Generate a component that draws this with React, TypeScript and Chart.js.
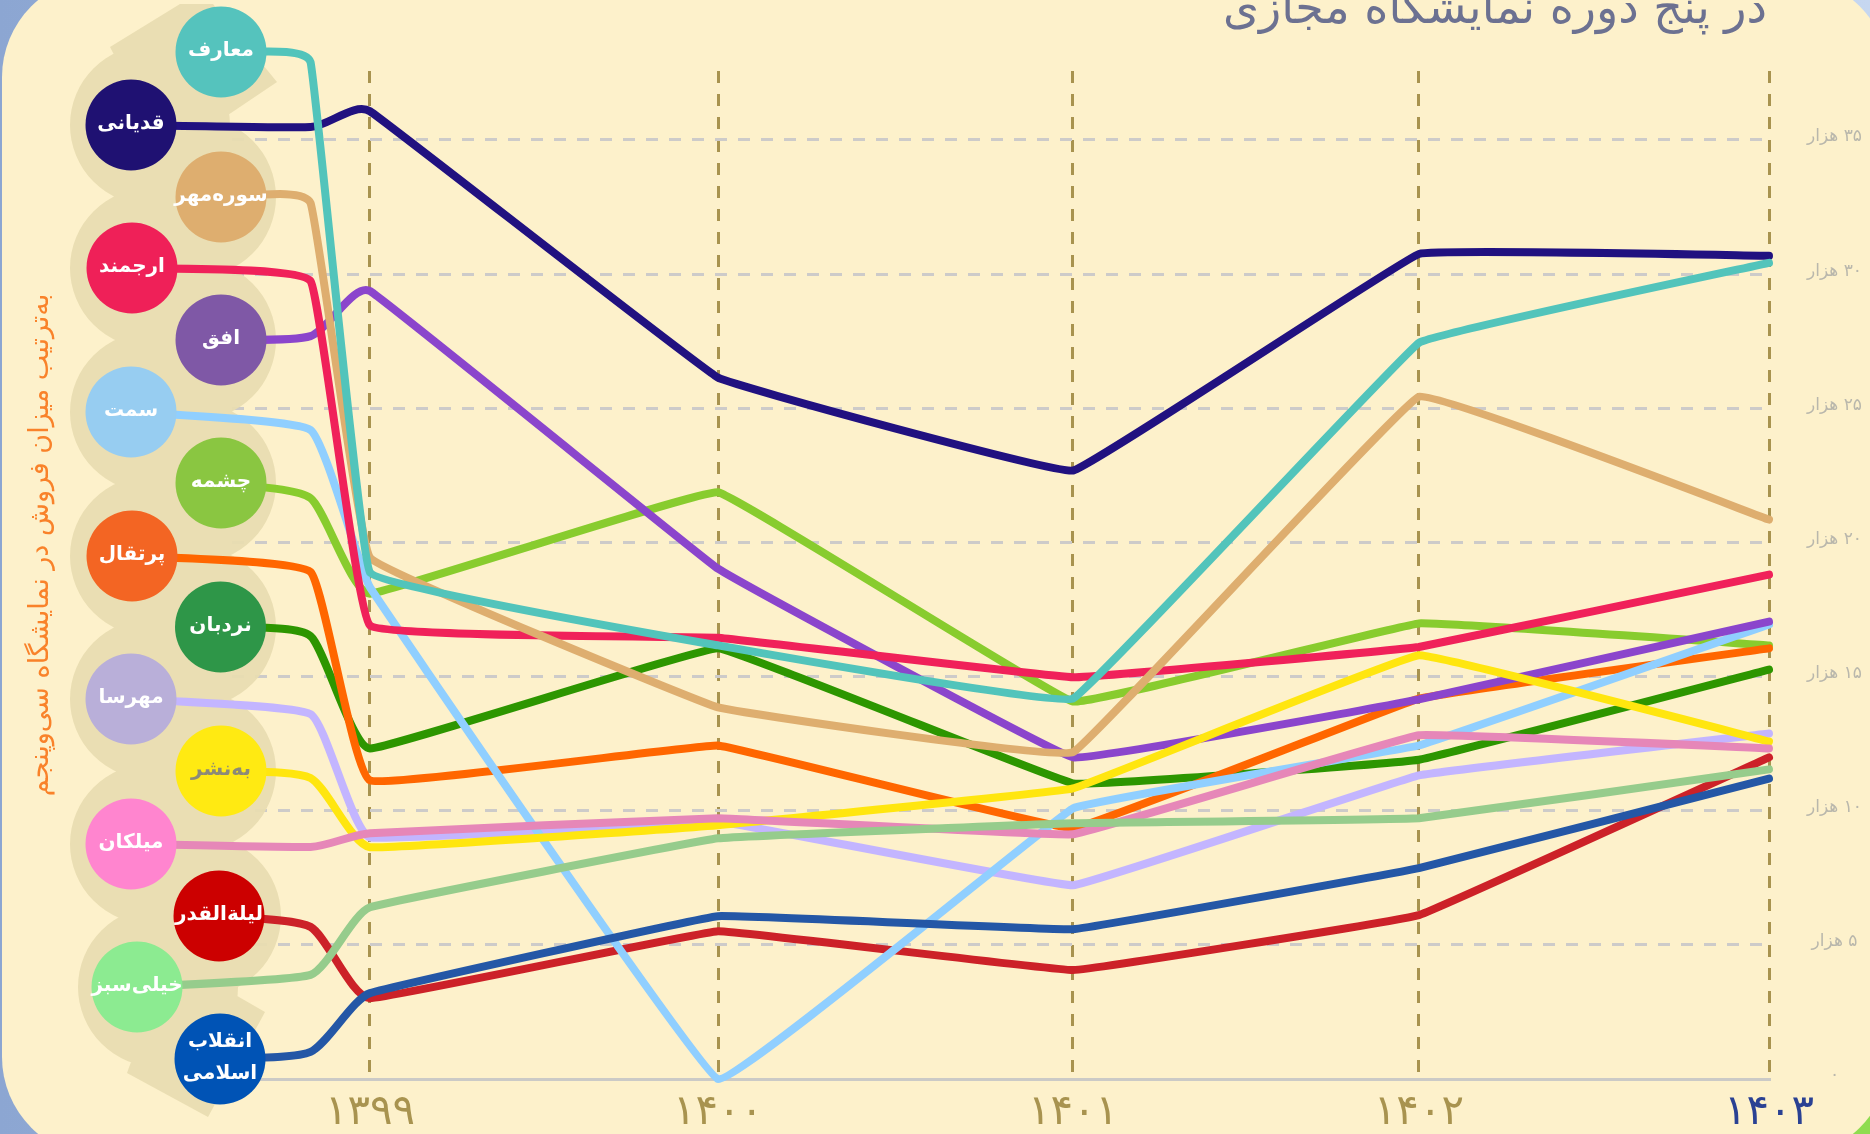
import React, { useEffect, useRef } from "react";
import { Chart, registerables } from "chart.js";

Chart.register(...registerables);

const FONT = '"DejaVu Sans", "Noto Sans", sans-serif';

const publishers = ["معارف", "قدیانی", "سوره‌مهر", "ارجمند", "افق", "سمت", "چشمه", "پرتقال", "نردبان", "مهرسا", "به‌نشر", "میلکان", "لیلة‌القدر", "خیلی‌سبز", "انقلاب\nاسلامی"];
const yearLabels = ["۱۳۹۹", "۱۴۰۰", "۱۴۰۱", "۱۴۰۲", "۱۴۰۳"];
const yearPositions = [1399, 1399.995, 1401.01, 1401.999, 1403];
const yTickValues = [0, 5000, 10000, 15000, 20000, 25000, 30000, 35000];

const sales1399 = [18880, 36070, 19430, 16900, 29370, 18320, 18090, 11130, 12320, 9010, 8640, 9160, 3010, 6400, 3200];
const sales1400 = [16160, 26140, 13850, 16450, 19020, 0, 21870, 12430, 16050, 9600, 9460, 9720, 5510, 8970, 6070];
const sales1401 = [14180, 22680, 12180, 14970, 11990, 10090, 14070, 9340, 11020, 7220, 10830, 9120, 4060, 9530, 5580];
const sales1402 = [27440, 30750, 25430, 16100, 14150, 12430, 16980, 14180, 11900, 11320, 15790, 12810, 6110, 9720, 7860];
const sales1403 = [30420, 30680, 20850, 18800, 17050, 16940, 16160, 16050, 15260, 12880, 12580, 12320, 11990, 11540, 11200];
const connectorValues = [37900, 35480, 32650, 29740, 27690, 24190, 21650, 18900, 16510, 13600, 11220, 8650, 5670, 3880, 1010];

const lineColors = ["#52C4BB", "#211180", "#DEAE6F", "#F0215A", "#8B45CC", "#90CFFF", "#88CC2E", "#FF6600", "#2D9600", "#C3B5FF", "#FFE60F", "#E687B8", "#CC2128", "#96CC8C", "#2457A6"];
const circleColors = ["#55C3BD", "#1F1172", "#DEAE6F", "#EF2058", "#7F58A6", "#97CDF1", "#8AC641", "#F36523", "#2E9648", "#B9AFD9", "#FFEA12", "#FF85CF", "#CC0000", "#8CEB91", "#0053B5"];
const layerOrder = [3, 14, 4, 5, 6, 8, 12, 9, 11, 10, 2, 1, 13, 0, 7];
const labelColors = publishers.map((_, i) => (i === 10 ? "#8C8A78" : "#FFFFFF"));

// geometry of the frame
const PLOT_LEFT = 232;
const PLOT_RIGHT = 1769;
const PLOT_TOP = 71;
const PLOT_BOTTOM = 1079;
const X_399 = 370;
const X_UNIT = 349.75;
const Y_MAX = 37570;
const Y_UNIT = Y_MAX / (PLOT_BOTTOM - PLOT_TOP);
const BEND_X = 1398.83;
const CORNER = 18;
const circleCX = [221, 131, 221, 132, 221, 131, 221, 132, 220.5, 131, 221, 131, 219, 137, 220];
const circleCY = [52, 125, 197, 268, 340, 412, 483, 556, 627, 699, 771, 844, 916, 987, 1059];
const CIRCLE_R = 45.5;

const seriesPoints = (i: number) => {
  const ys = [sales1399[i], sales1400[i], sales1401[i], sales1402[i], sales1403[i]];
  return [
    { x: 1399 + (circleCX[i] - X_399) / X_UNIT, y: (PLOT_BOTTOM - circleCY[i]) * Y_UNIT },
    { x: BEND_X, y: connectorValues[i] },
    ...ys.map((y, k) => ({ x: yearPositions[k], y })),
  ];
};

const toFa = (n: number) => String(n).replace(/\d/g, (d) => "۰۱۲۳۴۵۶۷۸۹"[Number(d)]);

const framePlugin = {
  id: "frame",
  // round each corner with a fixed radius instead of one that grows with the segment
  afterDatasetsUpdate(chart: any) {
    publishers.forEach((_, i) => {
      const meta = chart.getDatasetMeta(i);
      const pts = meta.data;
      pts.forEach((p: any, k: number) => {
        const a = pts[k - 1] || p;
        const b = pts[k + 1] || p;
        const la = Math.hypot(p.x - a.x, p.y - a.y);
        const lb = Math.hypot(b.x - p.x, b.y - p.y);
        const lc = Math.hypot(b.x - a.x, b.y - a.y) || 1;
        const ux = (b.x - a.x) / lc;
        const uy = (b.y - a.y) / lc;
        const da = Math.min(CORNER, la * 0.4);
        const db = Math.min(CORNER, lb * 0.4);
        p.cp1x = p.x - ux * da;
        p.cp1y = p.y - uy * da;
        p.cp2x = p.x + ux * db;
        p.cp2y = p.y + uy * db;
      });
      meta.dataset._pointsUpdated = true;
    });
  },
  beforeDraw(chart: any) {
    const { ctx, width, height } = chart;
    ctx.save();
    const g = ctx.createLinearGradient(0, 0, width, 0);
    g.addColorStop(0, "#8CA6D2");
    g.addColorStop(1, "#C6D7F0");
    ctx.fillStyle = g;
    ctx.fillRect(0, 0, width, height);
    ctx.fillStyle = "#8FDC50";
    ctx.fillRect(width - 120, height - 120, 120, 120);
    ctx.fillStyle = "#FDF1CB";
    ctx.beginPath();
    ctx.roundRect(2, -23, 1887, 1180, 100);
    ctx.fill();
    ctx.restore();
  },
  beforeDatasetsDraw(chart: any) {
    const { ctx } = chart;
    ctx.save();
    ctx.globalAlpha = 0.93;
    ctx.fillStyle = "#E8DDB0";
    ctx.beginPath();
    circleCY.forEach((cy, i) => {
      if (i === 0 || i === 14) return;
      const cx = i === 12 ? 201 : i === 13 ? 158 : i % 2 === 0 ? 196 : 150;
      ctx.moveTo(cx + 80, cy);
      ctx.arc(cx, cy, 80, 0, Math.PI * 2);
    });
    ctx.moveTo(110, 47);
    ctx.lineTo(180, 4);
    ctx.lineTo(213, 4);
    ctx.lineTo(277, 82);
    ctx.lineTo(225, 117);
    ctx.lineTo(150, 125);
    ctx.closePath();
    ctx.moveTo(158, 988);
    ctx.lineTo(232, 993);
    ctx.lineTo(265, 1012);
    ctx.lineTo(208, 1117);
    ctx.lineTo(127, 1073);
    ctx.closePath();
    ctx.fill("nonzero");
    ctx.restore();
  },
  afterDatasetsDraw(chart: any) {
    const { ctx } = chart;
    ctx.save();
    ctx.direction = "rtl";
    ctx.textAlign = "center";
    ctx.textBaseline = "middle";
    publishers.forEach((name, i) => {
      const p = chart.getDatasetMeta(i).data[0];
      ctx.fillStyle = circleColors[i];
      ctx.beginPath();
      ctx.arc(p.x, p.y, CIRCLE_R, 0, Math.PI * 2);
      ctx.fill();
      const lines = name.split("\n");
      ctx.fillStyle = labelColors[i];
      ctx.font = `bold 20px ${FONT}`;
      lines.forEach((t, k) => {
        ctx.fillText(t, p.x, p.y + (k - (lines.length - 1) / 2) * 32 - 1);
      });
    });
    ctx.fillStyle = "#6C7191";
    ctx.textAlign = "right";
    ctx.textBaseline = "alphabetic";
    ctx.font = `46px ${FONT}`;
    ctx.fillText("در پنج دوره نمایشگاه مجازی", 1767, 23);
    ctx.translate(41, 545);
    ctx.rotate(-Math.PI / 2);
    ctx.textAlign = "center";
    ctx.textBaseline = "middle";
    ctx.fillStyle = "#F9822A";
    ctx.font = `27px ${FONT}`;
    ctx.fillText("به‌ترتیب میزان فروش در نمایشگاه سی‌وپنجم", 0, 0);
    ctx.restore();
  },
};

export default function App() {
  const ref = useRef<HTMLCanvasElement>(null);
  useEffect(() => {
    document.body.style.margin = "0";
    const chart = new Chart(ref.current as HTMLCanvasElement, {
      type: "line",
      plugins: [framePlugin],
      data: {
        datasets: publishers.map((label, i) => ({
          label,
          data: seriesPoints(i),
          order: layerOrder[i],
          borderColor: lineColors[i],
          borderWidth: 8,
          borderCapStyle: "round",
          borderJoinStyle: "round",
          tension: 0.1,
          clip: false,
          pointRadius: 0,
          pointHoverRadius: 0,
        })),
      },
      options: {
        animation: false,
        responsive: false,
        devicePixelRatio: 1,
        parsing: { xAxisKey: "x", yAxisKey: "y" },
        layout: { padding: { left: PLOT_LEFT, top: PLOT_TOP, right: 0, bottom: 0 } },
        plugins: { legend: { display: false }, tooltip: { enabled: false }, title: { display: false } },
        scales: {
          x: {
            type: "linear",
            bounds: "data",
            afterDataLimits: (s: any) => {
              s.min = 1399 - (X_399 - PLOT_LEFT) / X_UNIT;
              s.max = 1403;
            },
            afterBuildTicks: (s: any) => {
              s.ticks = yearPositions.map((value) => ({ value }));
            },
            afterFit: (s: any) => {
              s.height = 1134 - PLOT_BOTTOM;
            },
            grid: { color: "#A8934F", lineWidth: 3, drawTicks: false },
            border: { color: "#CBCAC6", width: 3, dash: [12, 11] },
            ticks: {
              autoSkip: false,
              maxRotation: 0,
              padding: 9,
              font: { family: FONT, size: 42 },
              color: (c: any) => (c.index === 4 ? "#2A4193" : "#A8934F"),
              callback: (_: any, i: number) => yearLabels[i],
            },
          },
          y: {
            type: "linear",
            position: "right",
            min: 0,
            max: Y_MAX,
            afterBuildTicks: (s: any) => {
              s.ticks = yTickValues.map((value) => ({ value }));
            },
            afterFit: (s: any) => {
              s.width = 1870 - PLOT_RIGHT;
            },
            grid: { color: "#CDCBC9", lineWidth: 3, drawTicks: false },
            border: { display: false, dash: [12, 11] },
            ticks: {
              padding: 38,
              labelOffset: -3,
              crossAlign: "center",
              color: "#B9B7AC",
              font: { family: FONT, size: 17 },
              callback: (v: any) => (v === 0 ? "۰" : `\u200F${toFa(v / 1000)} هزار`),
            },
          },
        },
      },
    } as any);
    return () => chart.destroy();
  }, []);
  return <canvas ref={ref} width={1870} height={1134} style={{ display: "block" }} />;
}
